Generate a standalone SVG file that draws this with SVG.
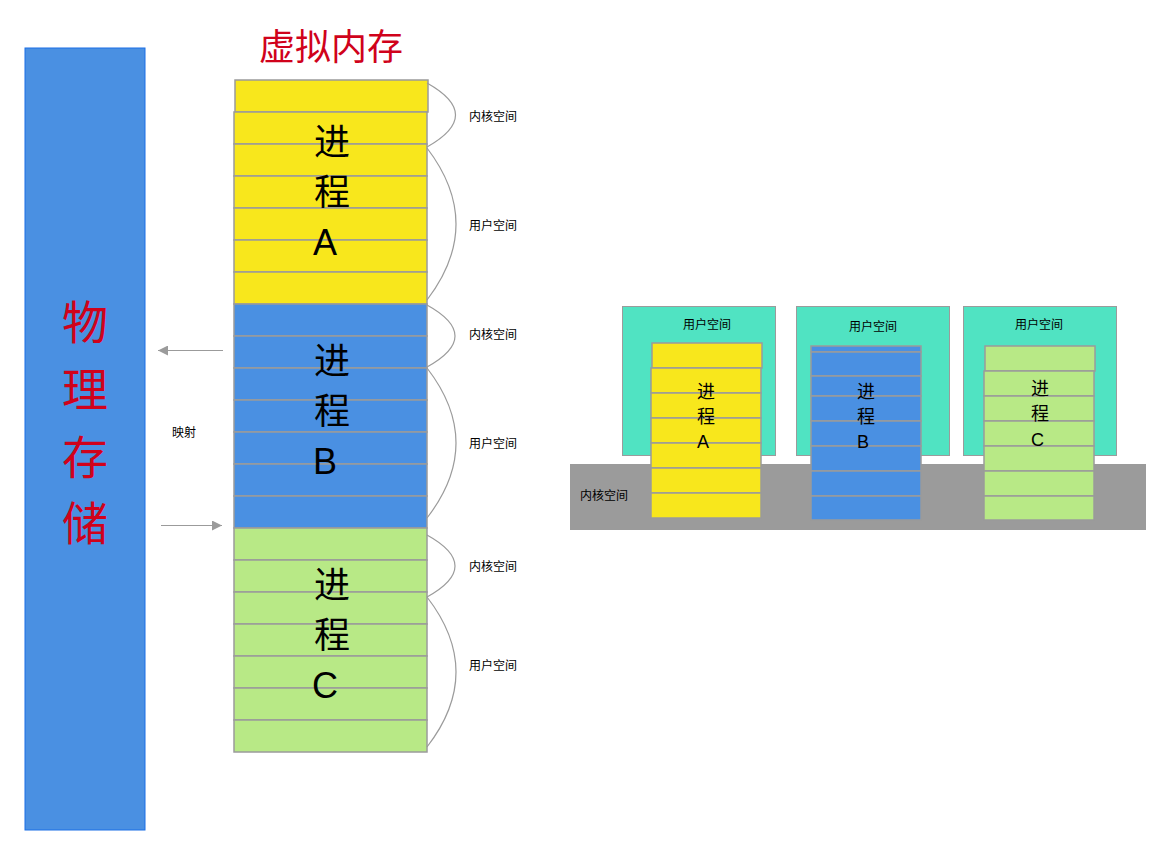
<svg xmlns="http://www.w3.org/2000/svg" width="1161" height="842" viewBox="0 0 1161 842">
<style>
text{font-family:"Liberation Sans","Noto Sans CJK SC",sans-serif;}
.red{fill:#d0021b;}
.big{font-size:36px;fill:#000;}
.mid{font-size:18px;fill:#000;}
.lbl{font-size:12px;fill:#000;font-family:"Noto Sans CJK SC",sans-serif;}
.y{fill:#f8e71c;stroke:#9b9b9b;stroke-width:1.5;}
.b{fill:#4a90e2;stroke:#9b9b9b;stroke-width:1.5;}
.g{fill:#b8e986;stroke:#9b9b9b;stroke-width:1.5;}
.t{fill:#50e3c2;stroke:#9b9b9b;stroke-width:1;}
.brace{fill:none;stroke:#9b9b9b;stroke-width:1.2;}
.arr{stroke:#9b9b9b;stroke-width:1;fill:none;}
</style>
<defs>
<marker id="ah" viewBox="0 0 10 10" refX="10" refY="5" markerWidth="10" markerHeight="10" markerUnits="userSpaceOnUse" orient="auto">
<path d="M0,0 L10,5 L0,10 z" fill="#9b9b9b"/>
</marker>
</defs>
<rect width="1161" height="842" fill="#fff"/>

<g id="physical">
<rect x="25" y="48" width="120" height="782" fill="#4a90e2" stroke="#1a6fe6" stroke-width="1"/>
<text class="red" font-size="46" text-anchor="middle" x="85" y="339">物</text>
<text class="red" font-size="46" text-anchor="middle" x="85" y="406">理</text>
<text class="red" font-size="46" text-anchor="middle" x="85" y="474">存</text>
<text class="red" font-size="46" text-anchor="middle" x="85" y="540">储</text>
</g>

<g id="title">
<text class="red" font-size="36" text-anchor="middle" x="331" y="60">虚拟内存</text>
</g>

<g id="processA">
<rect class="y" x="235" y="80" width="193" height="32"/>
<rect class="y" x="234" y="112" width="193" height="32"/>
<rect class="y" x="234" y="144" width="193" height="32"/>
<rect class="y" x="234" y="176" width="193" height="32"/>
<rect class="y" x="234" y="208" width="193" height="32"/>
<rect class="y" x="234" y="240" width="193" height="32"/>
<rect class="y" x="234" y="272" width="193" height="32"/>
<text class="big" x="314" y="155">进</text>
<text class="big" x="314" y="205">程</text>
<text class="big" x="313" y="255">A</text>
</g>

<g id="processB">
<rect class="b" x="234" y="304" width="193" height="32"/>
<rect class="b" x="234" y="336" width="193" height="32"/>
<rect class="b" x="234" y="368" width="193" height="32"/>
<rect class="b" x="234" y="400" width="193" height="32"/>
<rect class="b" x="234" y="432" width="193" height="32"/>
<rect class="b" x="234" y="464" width="193" height="32"/>
<rect class="b" x="234" y="496" width="193" height="32"/>
<text class="big" x="314" y="374">进</text>
<text class="big" x="314" y="424">程</text>
<text class="big" x="313" y="474">B</text>
</g>

<g id="processC">
<rect class="g" x="234" y="528" width="193" height="32"/>
<rect class="g" x="234" y="560" width="193" height="32"/>
<rect class="g" x="234" y="592" width="193" height="32"/>
<rect class="g" x="234" y="624" width="193" height="32"/>
<rect class="g" x="234" y="656" width="193" height="32"/>
<rect class="g" x="234" y="688" width="193" height="32"/>
<rect class="g" x="234" y="720" width="193" height="32"/>
<text class="big" x="314" y="598">进</text>
<text class="big" x="314" y="648">程</text>
<text class="big" x="312" y="698">C</text>
</g>

<g id="connectors">
<path class="brace" d="M427,83 Q484,115 427,147"/>
<path class="brace" d="M427,148 Q485,224 427,300"/>
<path class="brace" d="M427,305 Q483,336 427,367"/>
<path class="brace" d="M427,368 Q485,443 427,518"/>
<path class="brace" d="M427,535 Q483,566 427,597"/>
<path class="brace" d="M427,597 Q485,672 427,747"/>
<line class="arr" x1="223" y1="350.5" x2="158" y2="350.5" marker-end="url(#ah)"/>
<line class="arr" x1="161" y1="525.5" x2="222" y2="525.5" marker-end="url(#ah)"/>
</g>

<g id="labels">
<text class="lbl" x="469" y="120.5">内核空间</text>
<text class="lbl" x="469" y="229.5">用户空间</text>
<text class="lbl" x="469" y="338.5">内核空间</text>
<text class="lbl" x="469" y="447.5">用户空间</text>
<text class="lbl" x="469" y="570.5">内核空间</text>
<text class="lbl" x="469" y="669.5">用户空间</text>
<text class="lbl" x="172" y="436.5">映射</text>
</g>

<g id="kernel-space">
<rect x="570" y="464" width="576" height="66" fill="#9b9b9b"/>
<text class="lbl" x="580" y="499.5">内核空间</text>
</g>

<g id="user-space-A">
<rect class="t" x="622.5" y="306.5" width="153" height="149"/>
<text class="lbl" text-anchor="middle" x="707" y="328.5">用户空间</text>
</g>
<g id="user-space-B">
<rect class="t" x="796.5" y="306.5" width="153" height="149"/>
<text class="lbl" text-anchor="middle" x="873" y="330.5">用户空间</text>
</g>
<g id="user-space-C">
<rect class="t" x="963.5" y="306.5" width="153" height="149"/>
<text class="lbl" text-anchor="middle" x="1039" y="328.5">用户空间</text>
</g>

<g id="small-A">
<rect class="y" x="652" y="343" width="110" height="25"/>
<rect class="y" x="651" y="368" width="110" height="25"/>
<rect class="y" x="651" y="393" width="110" height="25"/>
<rect class="y" x="651" y="418" width="110" height="25"/>
<rect class="y" x="651" y="443" width="110" height="25"/>
<rect class="y" x="651" y="468" width="110" height="25"/>
<rect class="y" x="651" y="493" width="110" height="25"/>
<text class="mid" x="697" y="398">进</text>
<text class="mid" x="697" y="423">程</text>
<text class="mid" x="697" y="448">A</text>
</g>

<g id="small-B">
<rect class="b" x="811" y="346" width="110" height="6"/>
<rect class="b" x="811" y="352" width="110" height="24"/>
<rect class="b" x="811" y="376" width="110" height="20"/>
<rect class="b" x="811" y="396" width="110" height="25"/>
<rect class="b" x="811" y="421" width="110" height="25"/>
<rect class="b" x="811" y="446" width="110" height="25"/>
<rect class="b" x="811" y="471" width="110" height="25"/>
<rect class="b" x="811" y="496" width="110" height="24"/>
<text class="mid" x="857" y="398">进</text>
<text class="mid" x="857" y="423">程</text>
<text class="mid" x="857" y="448">B</text>
</g>

<g id="small-C">
<rect class="g" x="985" y="346" width="110" height="25"/>
<rect class="g" x="984" y="371" width="110" height="25"/>
<rect class="g" x="984" y="396" width="110" height="25"/>
<rect class="g" x="984" y="421" width="110" height="25"/>
<rect class="g" x="984" y="446" width="110" height="25"/>
<rect class="g" x="984" y="471" width="110" height="25"/>
<rect class="g" x="984" y="496" width="110" height="24"/>
<text class="mid" x="1031" y="395">进</text>
<text class="mid" x="1031" y="420">程</text>
<text class="mid" x="1031" y="446">C</text>
</g>
</svg>
